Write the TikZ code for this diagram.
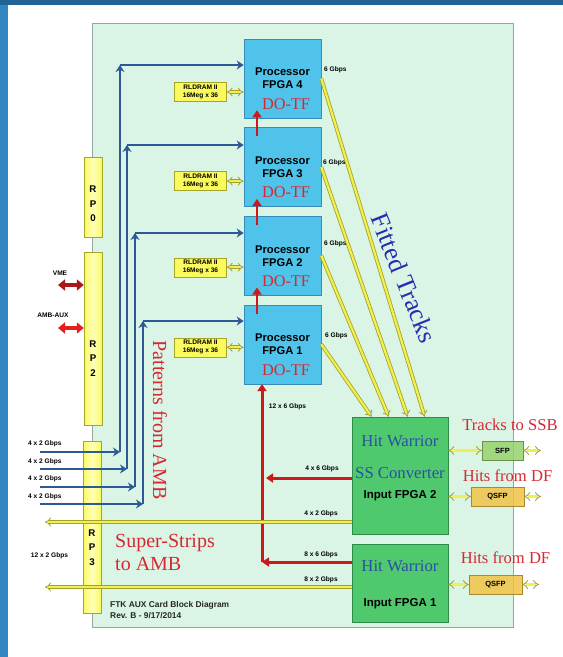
\documentclass[tikz,border=0pt]{standalone}
\usepackage{fontspec}
\setmainfont{Liberation Sans}
\newfontfamily\serifrm{Liberation Serif}
\usetikzlibrary{positioning,calc,arrows.meta}
\definecolor{framebar}{RGB}{50,135,195}
\definecolor{frametop}{RGB}{35,100,150}
\definecolor{boardmint}{RGB}{218,245,230}
\definecolor{boardedge}{RGB}{150,165,160}
\definecolor{fpgacyan}{RGB}{80,195,235}
\definecolor{fpgaedge}{RGB}{55,140,185}
\definecolor{ramyellow}{RGB}{250,250,95}
\definecolor{ramlight}{RGB}{255,255,185}
\definecolor{ramedge}{RGB}{165,165,40}
\definecolor{hwgreen}{RGB}{80,200,110}
\definecolor{hwedge}{RGB}{45,140,70}
\definecolor{sfpgreen}{RGB}{150,210,110}
\definecolor{qsfporange}{RGB}{240,195,70}
\definecolor{linkblue}{RGB}{45,90,150}
\definecolor{linkred}{RGB}{205,25,25}
\definecolor{vmered}{RGB}{170,25,25}
\definecolor{auxred}{RGB}{230,30,30}
\definecolor{textred}{RGB}{215,40,50}
\definecolor{textblue}{RGB}{40,80,165}
\definecolor{fitblue}{RGB}{40,45,175}
\definecolor{ylwfill}{RGB}{240,240,80}
\definecolor{ylwedge}{RGB}{165,160,40}

\begin{document}
\begin{tikzpicture}[
    x=1pt, y=-1pt,
    fpga/.style={rectangle, draw=fpgaedge, fill=fpgacyan, minimum width=77pt,
                 minimum height=79pt, align=center, inner sep=0pt, line width=0.6pt,
                 font=\fontsize{11.2}{13}\selectfont\bfseries},
    dotf/.style={text=textred, inner sep=0pt, font=\serifrm\fontsize{16.3}{18}\selectfont},
    ram/.style={rectangle, draw=ramedge, fill=ramyellow, minimum width=52pt,
                minimum height=19pt, align=center, inner sep=0pt,
                font=\fontsize{6.6}{7.8}\selectfont\bfseries},
    hw/.style={rectangle, draw=hwedge, fill=hwgreen, minimum width=96pt, line width=0.6pt},
    hwtitle/.style={text=textblue, inner sep=0pt, font=\serifrm\fontsize{16.7}{18}\selectfont},
    hwsub/.style={inner sep=0pt, font=\fontsize{11.5}{13}\selectfont\bfseries},
    optic/.style={rectangle, draw=#1!70!black, fill=#1, fill opacity=0.85, text opacity=1,
                  minimum height=19pt, inner sep=0pt, font=\fontsize{7.5}{8}\selectfont\bfseries},
    rp/.style={rectangle, draw=ramedge, left color=ramyellow, right color=ramyellow,
               middle color=ramlight, minimum width=18pt},
    rplabel/.style={align=center, inner sep=0pt, font=\fontsize{9.7}{14.5}\selectfont\bfseries},
    rate/.style={inner sep=0pt, font=\fontsize{6.6}{7}\selectfont\bfseries},
    redtext/.style={text=textred, inner sep=0pt, font=\serifrm\fontsize{16.6}{18}\selectfont},
    bluelink/.style={draw=linkblue, line width=2.8pt, -{Stealth[length=7pt, width=9pt]}},
    redlink/.style={draw=linkred, line width=3pt, -{Triangle[length=7pt, width=9pt]}},
    portlink/.style={draw=#1, line width=3.5pt,
                     {Triangle[length=7pt, width=11pt]}-{Triangle[length=7pt, width=11pt]}},
    ylwlink/.style={draw=ylwedge, double=ylwfill, line width=0.8pt, double distance=2.2pt,
                    -{Implies[length=5pt, width=10pt]}},
    ylwboth/.style={ylwlink, {Implies[length=4pt, width=9pt]}-{Implies[length=4pt, width=9pt]}}
]

\useasboundingbox (0,0) rectangle (563,657);
\fill[white] (0,0) rectangle (563,657);
\fill[framebar] (0,0) rectangle (8,657);
\fill[frametop] (0,0) rectangle (563,5);
\filldraw[fill=boardmint, draw=boardedge, line width=0.8pt] (92,23) rectangle (513,627);

\node[rp, minimum height=80pt] (rp0) at (93,197) {};
\node[rplabel] (rp0l) at (93,204) {R\\P\\0};
\node[rp, minimum height=173pt] (rp2) at (93,338.5) {};
\node[rplabel] (rp2l) at (93,358.5) {R\\P\\2};
\node[rp, minimum height=172pt] (rp3) at (92,527) {};
\node[rplabel] (rp3l) at (92,547.5) {R\\P\\3};

\node[fpga] (p4) at (282.5,78.5) {Processor\\FPGA 4};
\node[fpga, below=9pt of p4] (p3) {Processor\\FPGA 3};
\node[fpga, below=9pt of p3] (p2) {Processor\\FPGA 2};
\node[fpga, below=9pt of p2] (p1) {Processor\\FPGA 1};

\node[dotf] (d4) at ([xshift=3.5pt, yshift=-25.5pt]p4.center) {DO-TF};
\node[dotf] (d3) at ([xshift=3.5pt, yshift=-25.5pt]p3.center) {DO-TF};
\node[dotf] (d2) at ([xshift=3.5pt, yshift=-25.5pt]p2.center) {DO-TF};
\node[dotf] (d1) at ([xshift=3.5pt, yshift=-25.5pt]p1.center) {DO-TF};

\node[ram, left=17pt of p4, yshift=-13.5pt] (r4) {RLDRAM II\\16Meg x 36};
\node[ram, left=17pt of p3, yshift=-14pt] (r3) {RLDRAM II\\16Meg x 36};
\node[ram, left=17pt of p2, yshift=-11.5pt] (r2) {RLDRAM II\\16Meg x 36};
\node[ram, left=17pt of p1, yshift=-3pt] (r1) {RLDRAM II\\16Meg x 36};

\draw[ylwboth] (r4.east) -- (r4.east -| p4.west);
\draw[ylwboth] (r3.east) -- (r3.east -| p3.west);
\draw[ylwboth] (r2.east) -- (r2.east -| p2.west);
\draw[ylwboth] (r1.east) -- (r1.east -| p1.west);

\node[rate, anchor=west] (g4) at (324,70) {6 Gbps};
\node[rate, anchor=west] (g3) at (323,163) {6 Gbps};
\node[rate, anchor=west] (g2) at (324,244) {6 Gbps};
\node[rate, anchor=west] (g1) at (325,336) {6 Gbps};

\node[hw, minimum height=117pt] (hw2) at (400,475.5) {};
\node[hwtitle] (hw2a) at (400,441) {Hit Warrior};
\node[hwtitle] (hw2b) at (400,473) {SS Converter};
\node[hwsub] (hw2c) at (400,496) {Input FPGA 2};

\node[hw, minimum height=78pt] (hw1) at (400,583) {};
\node[hwtitle] (hw1a) at (400,566) {Hit Warrior};
\node[hwsub] (hw1c) at (400,604) {Input FPGA 1};

\node[optic=sfpgreen, minimum width=41pt] (sfp) at (502.5,450.5) {SFP};
\node[optic=qsfporange, minimum width=53pt] (qsfp2) at (497.5,496.5) {QSFP};
\node[optic=qsfporange, minimum width=53pt] (qsfp1) at (495.5,584.5) {QSFP};

\coordinate (sfpout) at (541,450.5);
\coordinate (qsfp2out) at (541,496.5);
\coordinate (qsfp1out) at (539,584.5);
\draw[ylwboth] (sfp.west -| hw2.east) -- (sfp.west);
\draw[ylwboth] (sfp.east) -- (sfpout);
\draw[ylwboth] (qsfp2.west -| hw2.east) -- (qsfp2.west);
\draw[ylwboth] (qsfp2.east) -- (qsfp2out);
\draw[ylwboth] (qsfp1.west -| hw1.east) -- (qsfp1.west);
\draw[ylwboth] (qsfp1.east) -- (qsfp1out);

\node[redtext] (tssb) at (510,425) {Tracks to SSB};
\node[redtext] (hits2) at (507.5,476) {Hits from DF};
\node[redtext] (hits1) at (505.5,558) {Hits from DF};

\draw[redlink, line width=2.6pt] ([xshift=-25.5pt, yshift=-9pt]p3.north) -- ([xshift=-25.5pt, yshift=8pt]p4.south);
\draw[redlink, line width=2.6pt] ([xshift=-25.5pt, yshift=-9pt]p2.north) -- ([xshift=-25.5pt, yshift=8pt]p3.south);
\draw[redlink, line width=2.6pt] ([xshift=-25.5pt, yshift=-9pt]p1.north) -- ([xshift=-25.5pt, yshift=8pt]p2.south);

\coordinate (redbot) at (262,562);
\coordinate (redmid) at (262,478);
\draw[redlink] (redbot) -- (redbot |- p1.south);
\draw[redlink] (hw2.west |- redmid) -- ([xshift=4pt]redmid);
\draw[redlink] (hw1.west |- redbot) -- (redbot);

\draw[ylwlink] (p4.east) -- ($(hw2.north west)+(73,0)$);
\draw[ylwlink] (p3.east) -- ($(hw2.north west)+(56,0)$);
\draw[ylwlink] (p2.east) -- ($(hw2.north west)+(37,0)$);
\draw[ylwlink] (p1.east) -- ($(hw2.north west)+(20,0)$);

\coordinate (ssout2) at (45,522);
\coordinate (ssout1) at (45,587);
\draw[ylwlink] (hw2.west |- ssout2) -- (ssout2);
\draw[ylwlink] (hw1.west |- ssout1) -- (ssout1);

\node[rate] (l12x6) at (287.5,407) {12 x 6 Gbps};
\node[rate] (l4x6) at (322,469) {4 x 6 Gbps};
\node[rate] (l4x2) at (321,514) {4 x 2 Gbps};
\node[rate] (l8x6) at (321,555) {8 x 6 Gbps};
\node[rate] (l8x2) at (321,580) {8 x 2 Gbps};

\coordinate (in4) at (40,452);
\coordinate (in3) at (40,469);
\coordinate (in2) at (40,487);
\coordinate (in1) at (40,504);
\coordinate (c4) at (120,452);
\coordinate (c3) at (127,469);
\coordinate (c2) at (135,487);
\coordinate (c1) at (143,504);
\coordinate (t4) at (120,65);
\coordinate (t3) at (127,145);
\coordinate (t2) at (135,233);
\coordinate (t1) at (143,321);

\draw[bluelink] (in4) -- (c4);
\draw[bluelink] (c4) -- (t4);
\draw[bluelink] (t4) -- (t4 -| p4.west);
\draw[bluelink] (in3) -- (c3);
\draw[bluelink] (c3) -- (t3);
\draw[bluelink] (t3) -- (t3 -| p3.west);
\draw[bluelink] (in2) -- (c2);
\draw[bluelink] (c2) -- (t2);
\draw[bluelink] (t2) -- (t2 -| p2.west);
\draw[bluelink] (in1) -- (c1);
\draw[bluelink] (c1) -- (t1);
\draw[bluelink] (t1) -- (t1 -| p1.west);

\node[rate, anchor=west] (a4) at (28,444) {4 x 2 Gbps};
\node[rate, anchor=west] (a3) at (28,462) {4 x 2 Gbps};
\node[rate, anchor=west] (a2) at (28,479) {4 x 2 Gbps};
\node[rate, anchor=west] (a1) at (28,497) {4 x 2 Gbps};
\node[rate] (amb12) at (49.5,556) {12 x 2 Gbps};

\coordinate (vme) at (58,285);
\coordinate (aux) at (58,328);
\draw[portlink=vmered] (vme) -- (vme -| rp2.west);
\draw[portlink=auxred] (aux) -- (aux -| rp2.west);
\node[rate] (vmel) at (60,273) {VME};
\node[rate] (auxl) at (53,315) {AMB-AUX};

\node[rotate=-90, text=textred, font=\serifrm\fontsize{20}{22}\selectfont] (pat) at (160,420) {Patterns from AMB};
\node[rotate=-68, text=fitblue, font=\serifrm\fontsize{26}{28}\selectfont] (fit) at (404,278) {Fitted Tracks};
\node[anchor=west, align=left, inner sep=0pt, text=textred,
      font=\serifrm\fontsize{20}{23}\selectfont] (ss) at (115,552.5) {Super-Strips\\to AMB};
\node[anchor=west, align=left, inner sep=0pt, text=black!85,
      font=\fontsize{8.4}{10.5}\selectfont\bfseries] (title) at (110,610) {FTK AUX Card Block Diagram\\Rev. B - 9/17/2014};

\end{tikzpicture}
\end{document}
